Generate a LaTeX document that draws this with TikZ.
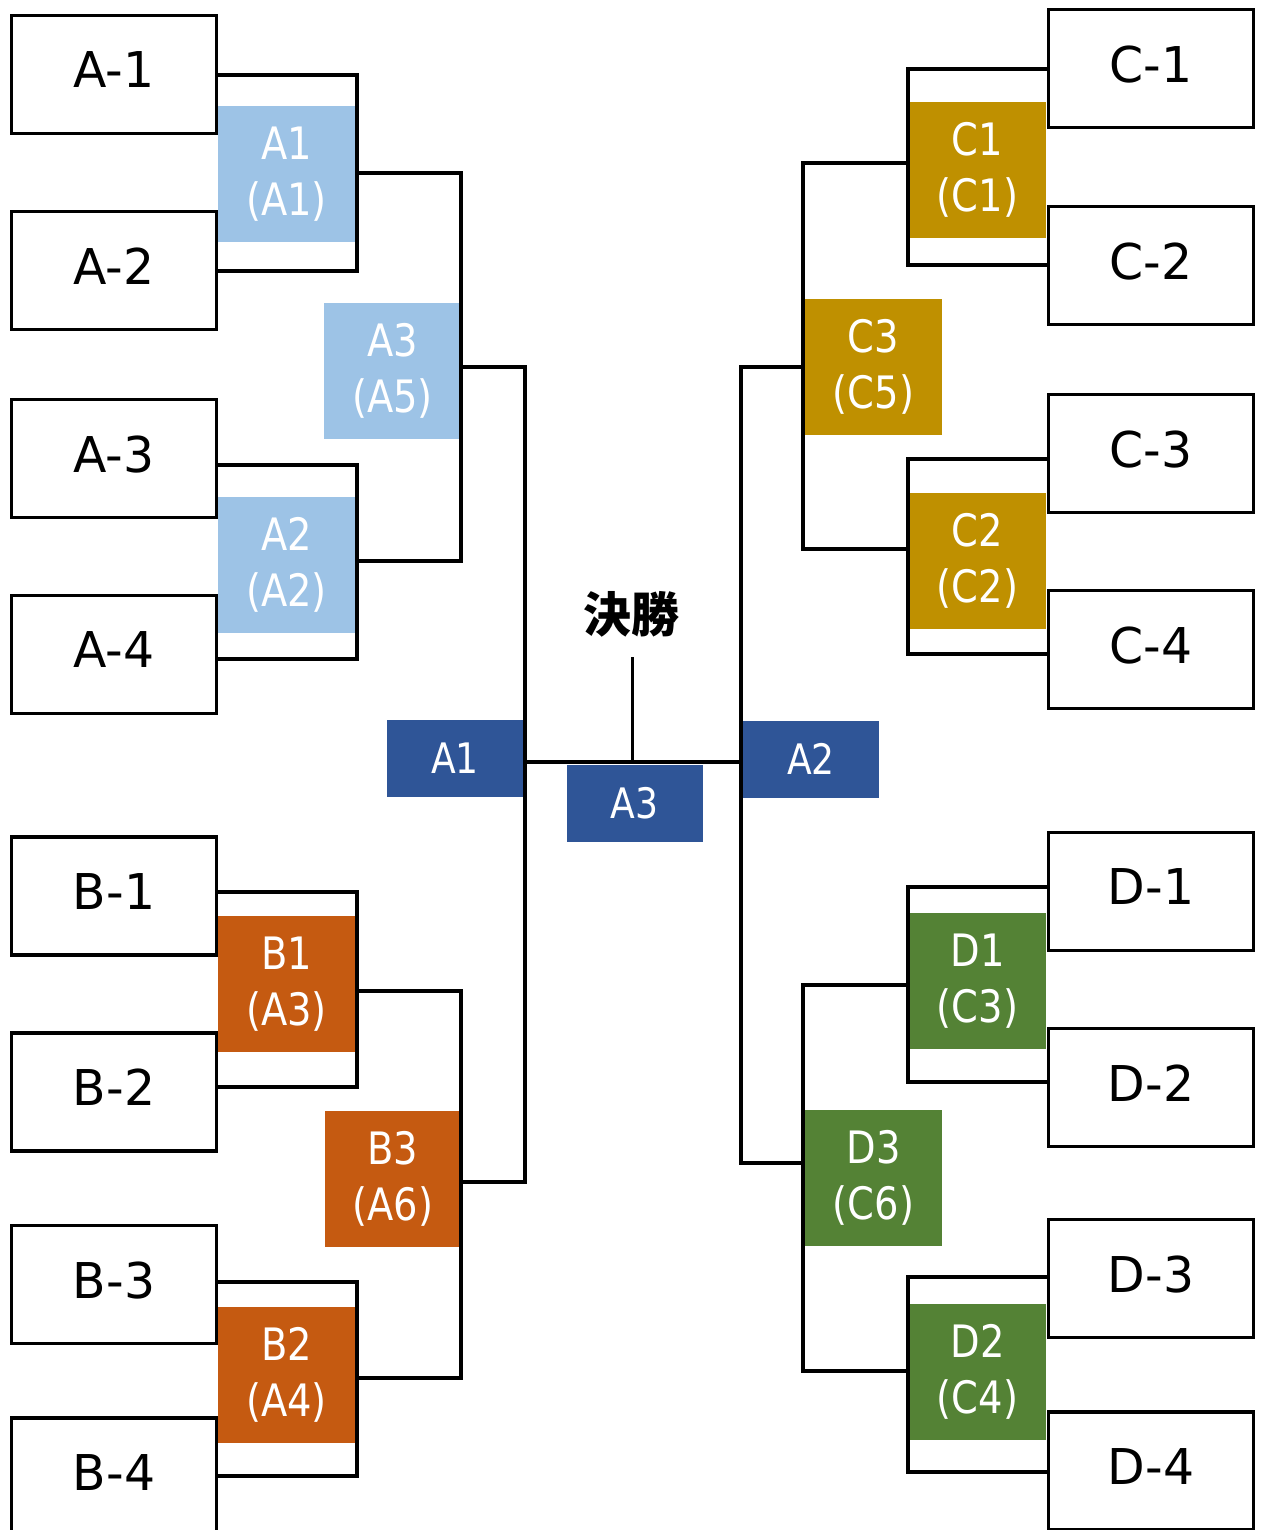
\documentclass[tikz,border=0pt]{standalone}
\usepackage{fontspec}
\newfontfamily\mainf[FakeStretch=0.99]{DejaVu Sans}
\newfontfamily\labf[FakeStretch=0.86]{DejaVu Sans}
\newfontfamily\cjkf{Noto Sans CJK JP}
\definecolor{lblue}{HTML}{9DC3E6}
\definecolor{dblue}{HTML}{2F5597}
\definecolor{orng}{HTML}{C55A11}
\definecolor{gold}{HTML}{BF9000}
\definecolor{grn}{HTML}{548235}
\begin{document}
\begin{tikzpicture}[x=0.75pt,y=-0.75pt,
  team/.style={draw,line width=2.6pt,minimum width=153.5pt,minimum height=88.3pt,inner sep=0pt,
    font=\mainf\fontsize{37}{44}\selectfont,text depth=6.75pt},
  lab/.style={inner sep=0pt,minimum width=102.75pt,minimum height=102pt,align=center,text=white,
    font=\labf\fontsize{33.5}{42}\selectfont},
  fin/.style={fill=dblue,inner sep=0pt,minimum width=102pt,minimum height=57.75pt,text=white,
    font=\labf\fontsize{31.5}{36}\selectfont},
  wire/.style={line width=2.6pt,line cap=rect}]
\useasboundingbox (0,0) rectangle (1263,1530);
\fill[white] (0,0) rectangle (1263,1530);
\clip (0,0) rectangle (1263,1530);

% coloured labels
\node[lab,fill=lblue] (la1) at (286.5,174) {A1\\(A1)};
\node[lab,fill=lblue] (la3) at (392.5,370.5) {A3\\(A5)};
\node[lab,fill=lblue] (la2) at (286.5,564.5) {A2\\(A2)};
\node[lab,fill=orng] (lb1) at (286.5,984) {B1\\(A3)};
\node[lab,fill=orng] (lb3) at (393,1178.5) {B3\\(A6)};
\node[lab,fill=orng] (lb2) at (286.5,1375) {B2\\(A4)};
\node[lab,fill=gold] (lc1) at (977.5,170) {C1\\(C1)};
\node[lab,fill=gold] (lc3) at (873.5,366.5) {C3\\(C5)};
\node[lab,fill=gold] (lc2) at (977.5,561) {C2\\(C2)};
\node[lab,fill=grn] (ld1) at (977.5,981) {D1\\(C3)};
\node[lab,fill=grn] (ld3) at (873.5,1177.5) {D3\\(C6)};
\node[lab,fill=grn] (ld2) at (977.5,1371.5) {D2\\(C4)};
\node[fin] (fa1) at (455,758) {A1};
\node[fin] (fa2) at (811,759) {A2};
\node[fin] (fa3) at (634.5,803) {A3};
\node[font=\cjkf\bfseries\fontsize{36}{40}\selectfont] (title) at (631,614) {決勝};

% team boxes
\node[team] (a1) at (114,74.5) {A-1};
\node[team] (a2) at (114,270.5) {A-2};
\node[team] (a3) at (114,458.5) {A-3};
\node[team] (a4) at (114,654.5) {A-4};
\node[team] (b1) at (114,896) {B-1};
\node[team] (b2) at (114,1092) {B-2};
\node[team] (b3) at (114,1284.5) {B-3};
\node[team] (b4) at (114,1477) {B-4};
\node[team] (c1) at (1151,68.5) {C-1};
\node[team] (c2) at (1151,265.5) {C-2};
\node[team] (c3) at (1151,453.5) {C-3};
\node[team] (c4) at (1151,649.5) {C-4};
\node[team] (d1) at (1151,891.5) {D-1};
\node[team] (d2) at (1151,1087.5) {D-2};
\node[team] (d3) at (1151,1278.5) {D-3};
\node[team] (d4) at (1151,1471) {D-4};

% junctions
\coordinate (jA1) at (357,173);
\coordinate (jA2) at (357,561);
\coordinate (jA3) at (461,367);
\coordinate (jB1) at (357,991);
\coordinate (jB2) at (357,1378);
\coordinate (jB3) at (461,1182);
\coordinate (jL) at (525,762);
\coordinate (jC1) at (908,163);
\coordinate (jC2) at (908,549);
\coordinate (jC3) at (803,367);
\coordinate (jD1) at (908,985);
\coordinate (jD2) at (908,1371);
\coordinate (jD3) at (803,1163);
\coordinate (jR) at (741,762);
\coordinate (jF) at (632.5,762);
\coordinate (stemtop) at (632.5,659);

% left brackets
\draw[wire] ([yshift=-0.4pt]a1.east) -| (jA1) |- ([yshift=-0.4pt]a2.east);
\draw[wire] ([yshift=-4.9pt]a3.east) -| (jA2) |- ([yshift=-3.4pt]a4.east);
\draw[wire] ([yshift=3pt]b1.east) -| (jB1) |- ([yshift=3.75pt]b2.east);
\draw[wire] ([yshift=1.9pt]b3.east) -| (jB2) |- ([yshift=0.75pt]b4.east);
\draw[wire] (jA1) -| (jA3) |- (jA2);
\draw[wire] (jB1) -| (jB3) |- (jB2);
\draw[wire] (jA3) -| (jL) |- (jB3);
% right brackets
\draw[wire] ([yshift=-0.4pt]c1.west) -| (jC1) |- ([yshift=0.4pt]c2.west);
\draw[wire] ([yshift=-4.1pt]c3.west) -| (jC2) |- ([yshift=-3.4pt]c4.west);
\draw[wire] ([yshift=3.4pt]d1.west) -| (jD1) |- ([yshift=4.1pt]d2.west);
\draw[wire] ([yshift=1.1pt]d3.west) -| (jD2) |- ([yshift=-0.75pt]d4.west);
\draw[wire] (jC1) -| (jC3) |- (jC2);
\draw[wire] (jD1) -| (jD3) |- (jD2);
\draw[wire] (jC3) -| (jR) |- (jD3);
% final
\draw[wire] (jL) -- (jR);
\draw[wire] (stemtop) -- (jF);
\end{tikzpicture}
\end{document}
